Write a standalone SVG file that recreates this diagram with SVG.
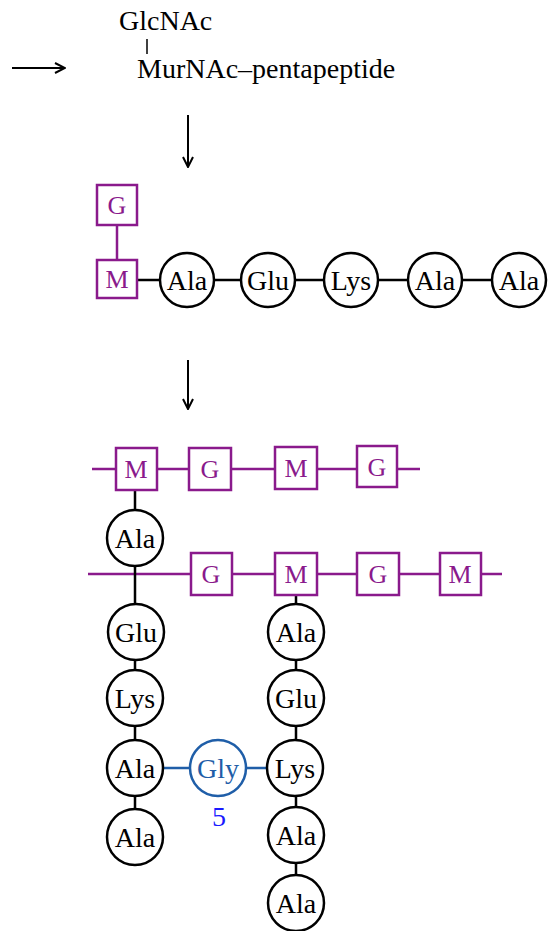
<svg xmlns="http://www.w3.org/2000/svg" width="551" height="931" viewBox="0 0 551 931">
  <defs>
    <marker id="head" viewBox="0 0 12 12" refX="11" refY="6" markerWidth="12" markerHeight="12" markerUnits="userSpaceOnUse" orient="auto">
      <path d="M1,1 L11,6 L1,11" fill="none" stroke="#000" stroke-width="2"/>
    </marker>
  </defs>
  <style>
    text { font-family: "Liberation Serif", "Times New Roman", serif; font-size: 28px; }
    .lbl { text-anchor: middle; }
    .aa circle { fill: #fff; stroke: #000; stroke-width: 2.5; }
    .aa text { fill: #000; }
    .sug rect { fill: #fff; stroke: #8a1a8c; stroke-width: 2.5; }
    .sug text { fill: #8a1a8c; font-size: 26px; }
    .gly circle { fill: #fff; stroke: #1f5ea8; stroke-width: 2.5; }
    .gly text { fill: #1f5ea8; }
    .pep { stroke: #000; stroke-width: 2.5; fill: none; }
    .chain { stroke: #8a1a8c; stroke-width: 2.5; fill: none; }
    .bridge { stroke: #1f5ea8; stroke-width: 2.5; fill: none; }
    .arrow { stroke: #000; stroke-width: 2; fill: none; }
  </style>

  <!-- precursor -->
  <g id="precursor">
    <text x="119" y="30">GlcNAc</text>
    <line x1="147" y1="39" x2="147" y2="54" stroke="#000" stroke-width="1.5"/>
    <text x="137" y="78">MurNAc–pentapeptide</text>
  </g>

  <!-- connectors -->
  <g id="connectors">
    <line class="arrow" x1="12" y1="68" x2="65" y2="68" marker-end="url(#head)"/>
    <line class="arrow" x1="188" y1="115" x2="188" y2="167" marker-end="url(#head)"/>
    <line class="arrow" x1="188" y1="360" x2="188" y2="409" marker-end="url(#head)"/>

    <!-- monomer -->
    <line class="chain" x1="117" y1="225" x2="117" y2="260"/>
    <path class="pep" d="M137,280 H519"/>

    <!-- glycan strands -->
    <line class="chain" x1="92" y1="469" x2="420" y2="469"/>
    <line class="chain" x1="88" y1="574" x2="502" y2="574"/>

    <!-- stem peptides -->
    <line class="pep" x1="135" y1="490" x2="135" y2="837"/>
    <line class="pep" x1="296" y1="595" x2="296" y2="903"/>

    <!-- pentaglycine bridge -->
    <line class="bridge" x1="135" y1="768" x2="296" y2="768"/>
  </g>

  <!-- monomer: G-M-pentapeptide -->
  <g id="m1-G" class="sug"><rect x="97" y="185" width="40" height="40"/><text class="lbl" x="117" y="214">G</text></g>
  <g id="m1-M" class="sug"><rect x="97" y="260" width="40" height="38"/><text class="lbl" x="117" y="288">M</text></g>
  <g id="m1-Ala1" class="aa"><circle cx="187" cy="280" r="27"/><text class="lbl" x="187" y="290">Ala</text></g>
  <g id="m1-Glu" class="aa"><circle cx="268" cy="280" r="27"/><text class="lbl" x="268" y="290">Glu</text></g>
  <g id="m1-Lys" class="aa"><circle cx="351" cy="280" r="27"/><text class="lbl" x="351" y="290">Lys</text></g>
  <g id="m1-Ala4" class="aa"><circle cx="435" cy="280" r="27"/><text class="lbl" x="435" y="290">Ala</text></g>
  <g id="m1-Ala5" class="aa"><circle cx="519" cy="280" r="27"/><text class="lbl" x="519" y="290">Ala</text></g>

  <!-- upper glycan strand -->
  <g id="s1-M1" class="sug"><rect x="116" y="448" width="41" height="42"/><text class="lbl" x="136" y="478">M</text></g>
  <g id="s1-G1" class="sug"><rect x="189" y="448" width="42" height="42"/><text class="lbl" x="210" y="478">G</text></g>
  <g id="s1-M2" class="sug"><rect x="275" y="447" width="42" height="42"/><text class="lbl" x="296" y="477">M</text></g>
  <g id="s1-G2" class="sug"><rect x="357" y="446" width="40" height="41"/><text class="lbl" x="377" y="476">G</text></g>

  <!-- lower glycan strand -->
  <g id="s2-G1" class="sug"><rect x="191" y="553" width="41" height="42"/><text class="lbl" x="211" y="583">G</text></g>
  <g id="s2-M1" class="sug"><rect x="275" y="553" width="42" height="42"/><text class="lbl" x="296" y="583">M</text></g>
  <g id="s2-G2" class="sug"><rect x="357" y="553" width="42" height="42"/><text class="lbl" x="378" y="583">G</text></g>
  <g id="s2-M2" class="sug"><rect x="440" y="553" width="41" height="42"/><text class="lbl" x="460" y="583">M</text></g>

  <!-- left stem peptide -->
  <g id="p1-Ala1" class="aa"><circle cx="135" cy="538" r="28"/><text class="lbl" x="135" y="548">Ala</text></g>
  <g id="p1-Glu" class="aa"><circle cx="136" cy="632" r="28"/><text class="lbl" x="136" y="642">Glu</text></g>
  <g id="p1-Lys" class="aa"><circle cx="135" cy="698" r="28"/><text class="lbl" x="135" y="708">Lys</text></g>
  <g id="p1-Ala4" class="aa"><circle cx="135" cy="768" r="28"/><text class="lbl" x="135" y="778">Ala</text></g>
  <g id="p1-Ala5" class="aa"><circle cx="135" cy="837" r="28"/><text class="lbl" x="135" y="847">Ala</text></g>

  <!-- right stem peptide -->
  <g id="p2-Ala1" class="aa"><circle cx="296" cy="632" r="28"/><text class="lbl" x="296" y="642">Ala</text></g>
  <g id="p2-Glu" class="aa"><circle cx="296" cy="698" r="28"/><text class="lbl" x="296" y="708">Glu</text></g>
  <g id="p2-Lys" class="aa"><circle cx="295" cy="768" r="28"/><text class="lbl" x="295" y="778">Lys</text></g>
  <g id="p2-Ala4" class="aa"><circle cx="296" cy="835" r="28"/><text class="lbl" x="296" y="845">Ala</text></g>
  <g id="p2-Ala5" class="aa"><circle cx="296" cy="903" r="28"/><text class="lbl" x="296" y="913">Ala</text></g>

  <!-- pentaglycine cross-bridge -->
  <g id="bridge-Gly" class="gly"><circle cx="218" cy="768" r="28"/><text class="lbl" x="218" y="778">Gly</text></g>
  <text x="219" y="826" text-anchor="middle" fill="#1a1aff">5</text>
</svg>
